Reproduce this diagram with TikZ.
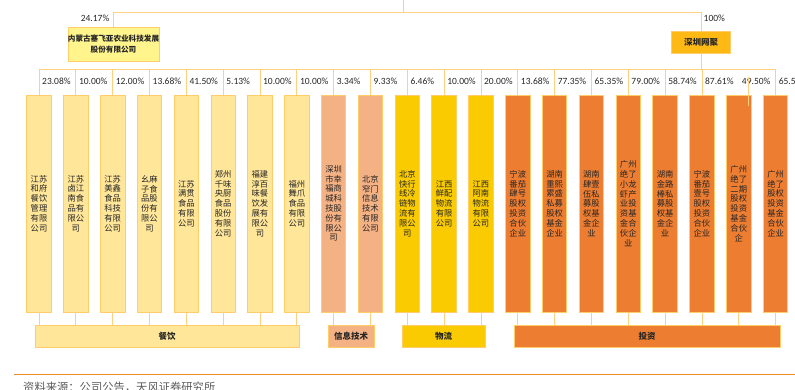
\documentclass[tikz,border=0pt]{standalone}
\usepackage{fontspec}
\setmainfont{Carlito}
\newfontfamily\cjk{Noto Sans CJK SC}
\definecolor{lineC}{RGB}{255,208,128}
\definecolor{bordC}{RGB}{255,205,105}
\definecolor{cyFill}{RGB}{255,230,153}
\definecolor{itFill}{RGB}{244,177,131}
\definecolor{wlFill}{RGB}{250,203,0}
\definecolor{tzFill}{RGB}{237,125,49}
\definecolor{nmgFill}{RGB}{255,245,140}
\definecolor{wjFill}{RGB}{255,185,20}
\definecolor{ruleC}{RGB}{240,140,40}
\definecolor{txtC}{RGB}{38,38,38}
\definecolor{srcC}{RGB}{90,90,90}
\begin{document}
\begin{tikzpicture}[x=1pt,y=-1pt,
  conn/.style={draw=lineC,line width=0.8pt},
  comp/.style={draw=bordC,line width=0.8pt,minimum width=24.5pt,minimum height=217pt,inner sep=0pt,align=center,text=txtC,font=\cjk\fontsize{8.3}{9.8}\selectfont},
  cat/.style={draw=bordC,line width=0.8pt,minimum height=22pt,inner sep=0pt,text=txtC,font=\cjk\bfseries\fontsize{8.5}{10}\selectfont},
  pct/.style={anchor=west,inner sep=0pt,text=txtC,font=\fontsize{9.5}{11}\selectfont},
  cyS/.style={fill=cyFill},
  itS/.style={fill=itFill},
  wlS/.style={fill=wlFill},
  tzS/.style={fill=tzFill}]
\useasboundingbox (0,0) rectangle (795,390);
% top level
\coordinate (top) at (403,0);
\coordinate (topJ) at (403,12.3);
\node[draw=bordC,fill=nmgFill,line width=0.8pt,minimum width=91pt,minimum height=34pt,inner sep=0pt,align=center,text=txtC,font=\cjk\bfseries\fontsize{7.6}{10.5}\selectfont] (nmg) at (113.5,44) {内蒙古塞飞亚农业科技发展\\股份有限公司};
\node[draw=bordC,fill=wjFill,line width=0.8pt,minimum width=59pt,minimum height=22pt,inner sep=0pt,text=txtC,font=\cjk\bfseries\fontsize{8.5}{10}\selectfont] (wj) at (701,42) {深圳网聚};
\coordinate (busL) at (nmg.north |- topJ);
\coordinate (busR) at (wj.north |- topJ);
\draw[conn] (top) -- (topJ);
\draw[conn] (nmg.north) -- (busL) -- (busR) -- (wj.north);
\node[anchor=east,inner sep=0pt,text=txtC,font=\fontsize{9.5}{11}\selectfont] (p0a) at (109.5,18) {24.17\%};
\node[pct] (p0b) at (703.5,18.5) {100\%};
% categories
\node[cat,cyS,minimum width=264pt] (catcy) at (167,336) {餐饮};
\node[cat,itS,minimum width=46pt] (catit) at (351,336) {信息技术};
\node[cat,wlS,minimum width=83pt] (catwl) at (443.5,336) {物流};
\node[cat,tzS,minimum width=266pt] (cattz) at (647,336) {投资};
% companies
\foreach \i/\st/\pc/\tx in {
 1/cy/23.08/{江苏\\和府\\餐饮\\管理\\有限\\公司},
 2/cy/10.00/{江苏\\卤江\\南食\\品有\\限公\\司},
 3/cy/12.00/{江苏\\美鑫\\食品\\科技\\有限\\公司},
 4/cy/13.68/{幺麻\\子食\\品股\\份有\\限公\\司},
 5/cy/41.50/{江苏\\满贯\\食品\\有限\\公司},
 6/cy/5.13/{郑州\\千味\\央厨\\食品\\股份\\有限\\公司},
 7/cy/10.00/{福建\\淳百\\味餐\\饮发\\展有\\限公\\司},
 8/cy/10.00/{福州\\舞爪\\食品\\有限\\公司},
 9/it/3.34/{深圳\\市幸\\福商\\城科\\技股\\份有\\限公\\司},
 10/it/9.33/{北京\\窄门\\信息\\技术\\有限\\公司},
 11/wl/6.46/{北京\\快行\\线冷\\链物\\流有\\限公\\司},
 12/wl/10.00/{江西\\鲜配\\物流\\有限\\公司},
 13/wl/20.00/{江西\\阿南\\物流\\有限\\公司},
 14/tz/13.68/{宁波\\番茄\\肆号\\股权\\投资\\合伙\\企业},
 15/tz/77.35/{湖南\\重熙\\累盛\\私募\\股权\\基金\\企业},
 16/tz/65.35/{湖南\\肆壹\\伍私\\募股\\权基\\金企\\业},
 17/tz/79.00/{广州\\绝了\\小龙\\虾产\\业投\\资基\\金合\\伙企\\业},
 18/tz/58.74/{湖南\\金路\\棒私\\募股\\权基\\金企\\业},
 19/tz/87.61/{宁波\\番茄\\壹号\\股权\\投资\\合伙\\企业},
 20/tz/49.50/{广州\\绝了\\二期\\股权\\投资\\基金\\合伙\\企},
 21/tz/65.50/{广州\\绝了\\股权\\投资\\基金\\合伙\\企业}} {
  \node[comp,\st S] (b\i) at ({39+36.83*(\i-1)},203.5) {\tx};
  \node[pct] (p\i) at ([xshift=3pt]b\i.north |- 0,81.5) {\pc\%};
  \draw[conn] (b\i.south) -- (b\i.south |- cat\st.north);
}
% lower bus hanging from 深圳网聚
\coordinate (bus2) at (0,69.5);
\draw[conn] (wj.south) -- (wj.south |- bus2);
\draw[conn] (b1.north |- bus2) -- (b21.north |- bus2);
\foreach \i in {1,...,19,21} {
  \draw[conn] (b\i.north) -- (b\i.north |- bus2);
}
\coordinate (q1) at (748.5,77);
\coordinate (q2) at (748.5,106.5);
\draw[conn] (q1) -- (q2);
% footer
\coordinate (ruleL) at (14,374.3);
\coordinate (ruleR) at (795,374.3);
\draw[draw=ruleC,line width=1pt] (ruleL) -- (ruleR);
\node[anchor=west,inner sep=0pt,text=srcC,font=\cjk\fontsize{11.3}{13}\selectfont] (src) at (23,387.5) {资料来源：公司公告，天风证券研究所};
\end{tikzpicture}
\end{document}
